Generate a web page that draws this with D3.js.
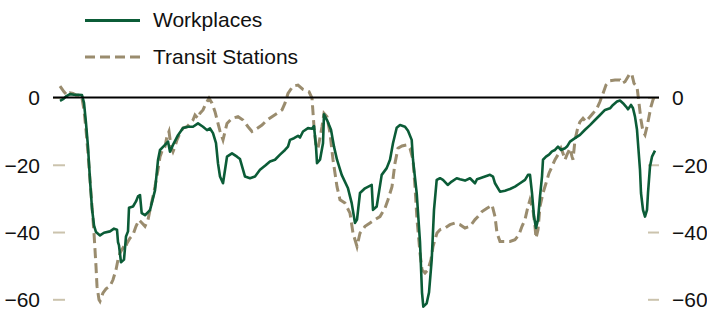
<!DOCTYPE html>
<html>
<head>
<meta charset="utf-8">
<script src="https://cdn.jsdelivr.net/npm/d3@7"></script>
<style>
  body { margin: 0; background: #fff; }
  svg text { font-family: "Liberation Sans", Arial, sans-serif; font-size: 21px; fill: #111; }
</style>
</head>
<body>
<div class="chart"></div>
<script>
// day offsets from start of series and values (% change from baseline)
var workDays = [0,3,6,10,14,18,22,24,26,28,30,32,34,36,40,44,50,54,57,58,59,61,64,66,68,69,73,76,78,80,81.7,85,90,95,98,100,105,108,110,113,118,123,128,133,138,143,147,150,153,156,158,160,163,167,172,177,180,185,190,195,200,205,210,215,220,225,228,230,234,238,240,243,248,252,254,256,257,260,263,264,267,271,274,277,281.7,288,291.7,295,297,300,305,311.7,313,316.7,321.7,326.7,330,333,336.7,340,345,348,351.7,353,356.7,360,362,363.3,366.7,369,371.7,374,376.7,380,383,387.7,391.7,396.7,400,405,410,415,417,420,425,430,433,435,440,445,450,455,460,465,468,470,472,474,476,478,480,482,483,486,489,492,495,498,501,505,507,510,515,520,525,530,535,540,545,550,553,557,560,563,566,568,570,571,573,575,577,578,580,581,583,585,587,588,590,592,595];
var workVals = [-1,-0.5,0.3,1,0.8,0.8,0.7,-1.6,-7.6,-14.7,-24.5,-33,-38,-40,-41,-40.2,-39.8,-39,-39.3,-43,-44,-49,-48.2,-41.3,-39.8,-32.8,-32.4,-30.9,-29.4,-29,-34.4,-35,-33.5,-27.6,-18.6,-15.6,-14.1,-13.1,-16.1,-14.1,-11.2,-9.1,-8.7,-8.7,-7.7,-8.7,-9.7,-9.2,-10.6,-13.6,-19.6,-23.5,-25.5,-17.6,-16.6,-17.6,-18.3,-23.5,-24,-23.5,-21.5,-20.3,-19,-18.5,-17,-15.6,-14.6,-12.6,-12.1,-11.4,-11.9,-10.1,-9.1,-9.3,-8.5,-14.6,-19.5,-18.5,-13.6,-5,-6.7,-9.6,-14.6,-18.5,-23,-27,-31.4,-37.3,-36.3,-28.4,-27,-26,-33.4,-32.4,-23,-21,-18.5,-13.6,-9,-8.2,-8.7,-9.9,-12.6,-18.5,-28.4,-43,-58,-62.2,-61.2,-58,-48.3,-33.4,-24.5,-24,-24.5,-26,-25,-24,-24.3,-24.7,-24,-25.5,-24.3,-24,-23.5,-23,-23.5,-25.5,-28,-27.7,-27.2,-26.5,-25.5,-24.5,-23,-23,-28.4,-35.4,-38.8,-36.3,-29.4,-23.5,-18.5,-17.6,-17,-16,-15.6,-14.6,-15.6,-15.1,-14.6,-13.1,-12.1,-11.1,-9.6,-8.2,-6.7,-5.2,-3.7,-3.2,-2.2,-1.2,-0.9,-1.7,-2.7,-3.5,-2.7,-2.2,-3.2,-5.7,-9.6,-13.6,-21.5,-28.4,-33.4,-35.4,-33.4,-28.4,-20.5,-17.6,-15.8];

var transitDays = [0,4,7,10,13,16,20,22,24,26,28,30,32,34,36,37,39,40,43,46,50,53,56,58,60,63,65,67,70,73,76,79,82,85,88,90,93,95,98,100,103,105,107,109,111,113,115,117,120,123,127,130,133,135,138,140,143,146,149,152,155,158,160,163,167,172,178,183,188,192,197,202,207,212,217,222,225,228,233,238,243,249,252,254,256,258,262,264,267,270,273,277,280,285,290,293,297,300,305,310,315,320,325,328,332,335,338,342,347,350,353,355,357,360,362,365,368,371,373,377,380,385,390,395,400,405,410,415,418,422,427,430,432,435,437,440,445,450,455,459,462,465,468,470,473,475,476,478,480,483,486,489,492,495,498,501,503,505,507,510,512,513,515,518,520,523,526,530,533,537,540,543,546,550,555,560,562,565,568,570,572,574,577,579,581,583,585,587,589,591,593,595];
var transitVals = [3.4,1.7,0.7,1.4,1.2,0.7,0.7,-0.2,-3.7,-9.6,-16.6,-24.5,-32.4,-40.3,-50.2,-56.1,-60.1,-60.6,-58.1,-56.9,-56.1,-54.2,-51.2,-48.2,-46.2,-44.7,-45.2,-43.3,-41.8,-40.8,-38.3,-36.4,-37.3,-38.3,-36.4,-33.4,-29.4,-26.5,-21.5,-17.6,-15.1,-14.6,-11.6,-10.1,-14.6,-16.1,-14.6,-12.6,-10.6,-9.1,-8.7,-7.7,-6.7,-5.2,-6.2,-4.7,-3.7,-1.7,-0.2,-1.7,-4.2,-7.7,-10,-12.6,-7.7,-6.2,-5.7,-6.7,-8.7,-10.1,-9.2,-8.2,-6.7,-5.7,-4.7,-3.7,-1.7,1.2,3.4,3.7,2.4,1.7,-0.2,-8.7,-14.6,-15.1,-8.7,-4.7,-5.7,-10.6,-18.5,-26.5,-30.4,-31.4,-34.4,-40.3,-44.3,-40.3,-38.3,-37.3,-36.3,-35.4,-32.9,-30.4,-26.5,-19.5,-15.1,-14.4,-14.1,-15.1,-18.5,-26.5,-36.3,-46.2,-51.2,-52.2,-51.2,-48.2,-44.3,-40.3,-39.3,-38.8,-37.8,-37.3,-37.8,-38.8,-38.3,-36.3,-35.4,-33.9,-32.9,-32.4,-31.9,-35.4,-40.3,-42.8,-42.8,-42.8,-42.3,-40.8,-38.3,-36.3,-32.4,-30.4,-33.4,-38.3,-41.8,-39.3,-32.4,-28.4,-25.5,-22.5,-20.5,-18.5,-17,-15.1,-16.6,-18.5,-17,-15.1,-17.6,-18.5,-12.6,-8.7,-7.2,-6.2,-7.2,-5.7,-4.7,-3.2,-1.2,1.2,3.7,5,5.2,5.2,4.2,4.7,6.2,7.2,6.7,4.2,3.2,-1.7,-6.7,-10.1,-11.1,-8.7,-5.7,-2.7,-0.7,0.7];

var seriesNames = ['Workplaces', 'Transit Stations'];
var yTicks = [0, -20, -40, -60];

var width = 707, height = 309;
var green = '#0b5c37', tan = '#9a8c6e', tickTan = '#cbc3ad';

var svg = d3.select('.chart').append('svg')
  .attr('width', width)
  .attr('height', height);

var x = d3.scaleLinear().domain([-7, 599]).range([53, 659]);
var y = d3.scaleLinear().domain([-60, 0]).range([299.3, 97.5]);

function toPoints(days, vals) {
  return days.map(function(d, i) { return [d, vals[i]]; });
}

// axes: short tan ticks inside the plot, labels outside
var leftAxis = d3.axisLeft(y).tickValues(yTicks).tickSize(12).tickPadding(13)
  .tickFormat(d3.format('d'));
var rightAxis = d3.axisRight(y).tickValues(yTicks).tickSize(11).tickPadding(13)
  .tickFormat(d3.format('d'));

function styleAxis(g) {
  g.select('.domain').remove();
  g.selectAll('.tick line').attr('stroke', tickTan).attr('stroke-width', 2);
  g.selectAll('.tick text').attr('font-size', null).attr('font-family', null)
    .attr('fill', '#111').attr('dy', '0.35em');
}
svg.append('g').attr('transform', 'translate(65,0)').call(leftAxis).call(styleAxis);
svg.append('g').attr('transform', 'translate(648,0)').call(rightAxis).call(styleAxis);

var line = d3.line()
  .x(function(d) { return x(d[0]); })
  .y(function(d) { return y(d[1]); });

svg.append('path')
  .datum(toPoints(transitDays, transitVals))
  .attr('d', line)
  .attr('fill', 'none')
  .attr('stroke', tan)
  .attr('stroke-width', 3)
  .attr('stroke-dasharray', '10,5');

svg.append('path')
  .datum(toPoints(workDays, workVals))
  .attr('d', line)
  .attr('fill', 'none')
  .attr('stroke', green)
  .attr('stroke-width', 2.6)
  .attr('stroke-linejoin', 'round');

// zero line
svg.append('line')
  .attr('x1', x.range()[0]).attr('x2', x.range()[1])
  .attr('y1', y(0)).attr('y2', y(0))
  .attr('stroke', '#000').attr('stroke-width', 2);

// legend
var legend = svg.append('g').attr('class', 'legend');
seriesNames.forEach(function(name, i) {
  var ly = 20.5 + i * 36.5;
  legend.append('line')
    .attr('x1', 85).attr('x2', 140).attr('y1', ly).attr('y2', ly)
    .attr('stroke', i === 0 ? green : tan)
    .attr('stroke-width', 3)
    .attr('stroke-dasharray', i === 0 ? null : '10,5');
  legend.append('text')
    .attr('x', 153).attr('y', ly + 6.7)
    .text(name);
});
</script>
</body>
</html>
